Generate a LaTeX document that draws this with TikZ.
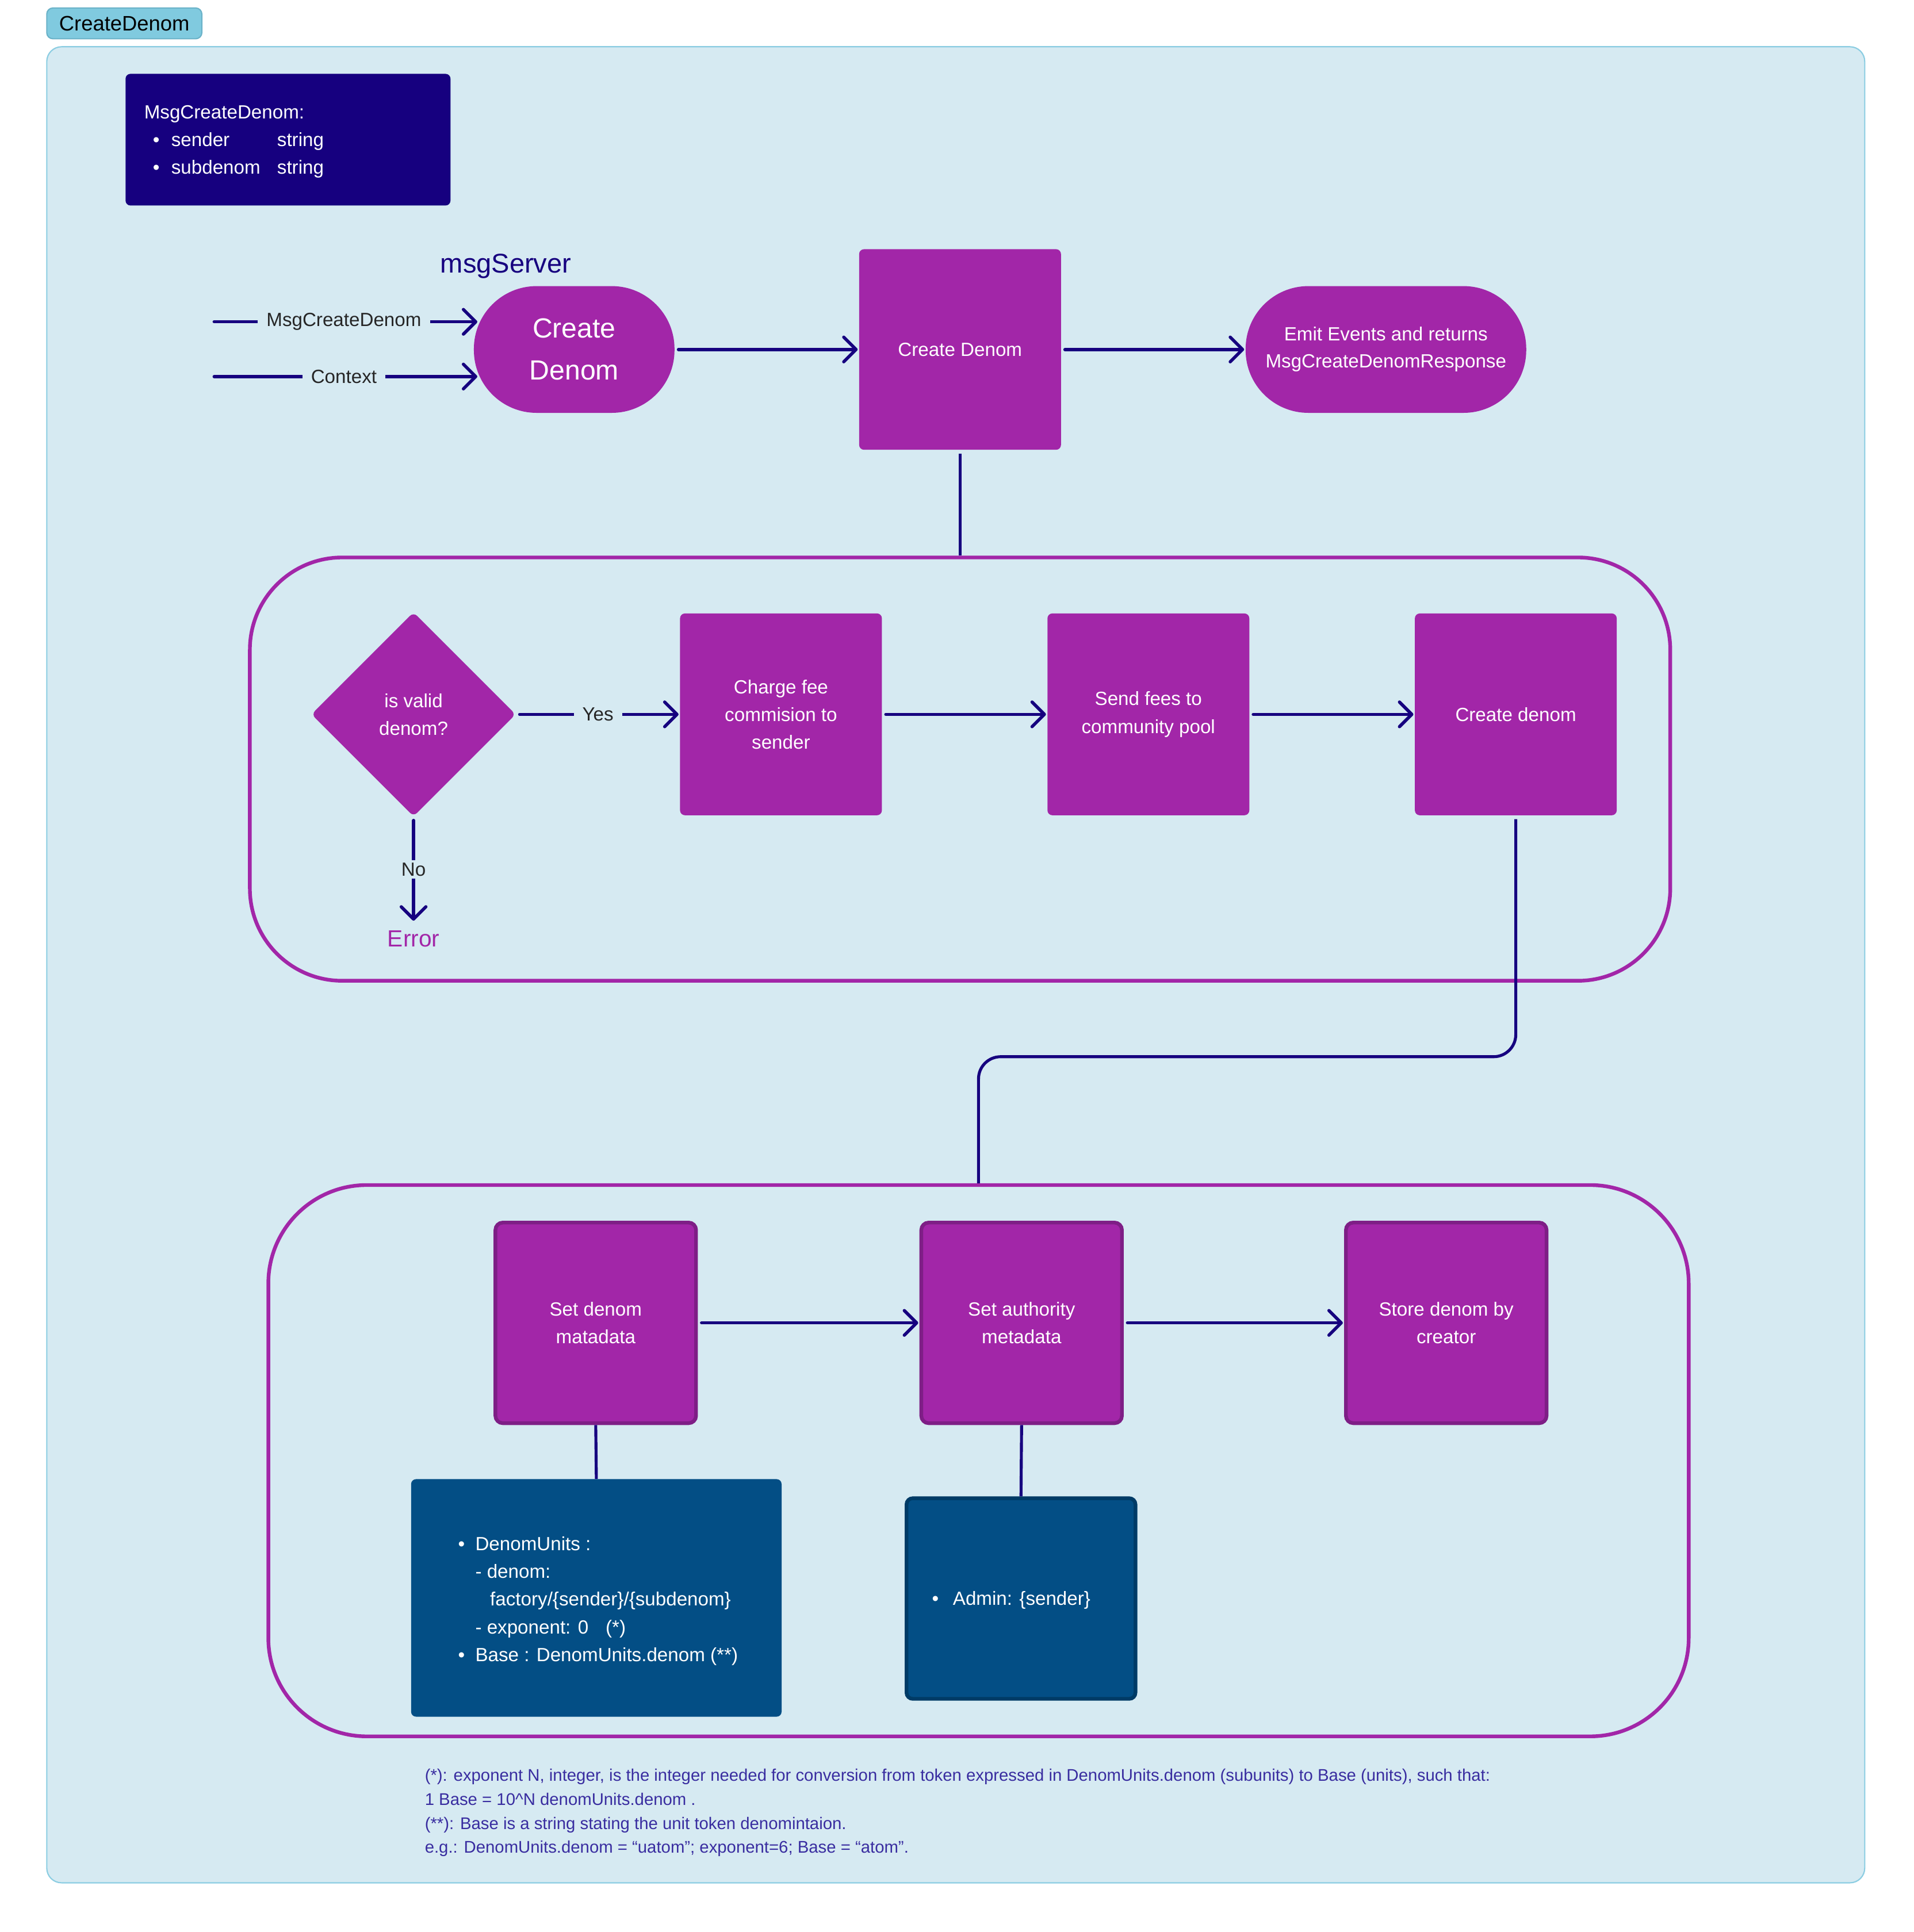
\documentclass[tikz,border=0pt]{standalone}
\usepackage{fontspec}
\setmainfont{Liberation Sans}
\usetikzlibrary{arrows.meta,shapes.geometric,calc}
\definecolor{bgpanel}{HTML}{D6EAF2}
\definecolor{panelline}{HTML}{8BCDE2}
\definecolor{tabfill}{HTML}{80CADF}
\definecolor{tabline}{HTML}{6AB2C8}
\definecolor{purp}{HTML}{A226A8}
\definecolor{purpdark}{HTML}{7E1E86}
\definecolor{ink}{HTML}{16007F}
\definecolor{bluebox}{HTML}{034E85}
\definecolor{blueline}{HTML}{003B66}
\definecolor{labeltext}{HTML}{262626}
\definecolor{footc}{HTML}{392DA0}
\begin{document}
\begin{tikzpicture}[x=1pt,y=-1pt,
  every node/.style={font=\fontsize{15.5}{22.5}\selectfont},
  pbox/.style={rectangle, fill=purp, text=white, rounded corners=4pt, minimum width=164pt, minimum height=164pt, align=center, inner sep=0pt},
  pboxb/.style={pbox, draw=purpdark, line width=3pt, minimum width=163pt, minimum height=163pt, rounded corners=6pt},
  pill/.style={rectangle, fill=purp, text=white, rounded corners=51pt, minimum height=103pt, align=center, inner sep=0pt},
  frame/.style={rectangle, draw=purp, line width=3pt, rounded corners=75pt, inner sep=0pt},
  arr/.style={draw=ink, line width=2.6pt, line cap=round, -{Straight Barb[length=10pt,width=20pt,round]}, shorten <=3pt, shorten >=1pt},
  conn/.style={draw=ink, line width=2.4pt},
  lbl/.style={fill=bgpanel, text=labeltext, inner xsep=7pt, inner ysep=2pt},
]
\useasboundingbox (0,0) rectangle (1555,1570);
\fill[white] (0,0) rectangle (1555,1570);

% main panel and tab
\node[rectangle, fill=bgpanel, draw=panelline, line width=1pt, rounded corners=12pt, minimum width=1477pt, minimum height=1492pt, inner sep=0pt] (main) at (776.5,784) {};
\node[rectangle, fill=tabfill, draw=tabline, line width=1pt, rounded corners=5pt, minimum width=126pt, minimum height=25pt, inner sep=0pt, font=\fontsize{17}{20}\selectfont] (tab) at (101,19) {CreateDenom};

% message definition
\node[rectangle, fill=ink, rounded corners=4pt, minimum width=264pt, minimum height=107pt, inner sep=0pt] (msg) at (234,113.5) {};
\node[anchor=west, text=white, align=left, inner sep=0pt] (msgtxt) at (117,115) {MsgCreateDenom:\\
\hspace*{7pt}\makebox[15pt][l]{\textbullet}\makebox[86pt][l]{sender}string\\
\hspace*{7pt}\makebox[15pt][l]{\textbullet}\makebox[86pt][l]{subdenom}string};

% top row
\node[text=ink, font=\fontsize{22}{26}\selectfont] (msl) at (411,216.5) {msgServer};
\node[pill, minimum width=163pt, font=\fontsize{22.5}{34}\selectfont] (cdpill) at (466.5,284) {Create\\Denom};
\node[pbox, minimum height=163pt] (cdbox) at (780,284) {Create Denom};
\node[pill, minimum width=228pt, font=\fontsize{15.5}{22}\selectfont] (emit) at (1126,284) {Emit Events and returns\\MsgCreateDenomResponse};

\coordinate (in1) at (174,261.5);
\coordinate (in2) at (174,306);
\draw[arr, shorten <=0pt, shorten >=-3pt] (in1) -- node[lbl]{MsgCreateDenom} (in1 -| cdpill.west);
\draw[arr, shorten <=0pt, shorten >=-3pt] (in2) -- node[lbl]{Context} (in2 -| cdpill.west);
\draw[arr] (cdpill.east) -- (cdbox.west);
\draw[arr] (cdbox.east) -- (emit.west);

% frame A
\node[frame, minimum width=1154pt, minimum height=344pt] (frameA) at (780,625) {};
\draw[conn, shorten <=3pt] (cdbox.south) -- (frameA.north);

\node[diamond, fill=purp, text=white, minimum width=166pt, minimum height=166pt, inner sep=0pt, align=center, rounded corners=4pt] (valid) at (336,580.5) {is valid\\denom?};
\node[pbox] (fee) at (634.5,580.5) {Charge fee\\commision to\\sender};
\node[pbox] (send) at (933,580.5) {Send fees to\\community pool};
\node[pbox] (cdn) at (1231.5,580.5) {Create denom};
\node[text=purp, font=\fontsize{19}{22}\selectfont, inner sep=0pt] (errt) at (336,763) {Error};

\draw[arr] (valid.east) -- node[lbl]{Yes} (fee.west);
\draw[arr] (fee.east) -- (send.west);
\draw[arr] (send.east) -- (cdn.west);
\draw[arr] (valid.south) -- node[lbl]{No} ($(errt.north)+(0,-7)$);

% frame B
\node[frame, rounded corners=80pt, minimum width=1154pt, minimum height=448pt] (frameB) at (795,1187) {};
\draw[conn, rounded corners=18pt, shorten <=3pt] (cdn.south) -- ++(0,196) -| (frameB.north);

\node[pboxb] (sdm) at (484,1075) {Set denom\\matadata};
\node[pboxb] (auth) at (830,1075) {Set authority\\metadata};
\node[pboxb] (store) at (1175,1075) {Store denom by\\creator};
\draw[arr] (sdm.east) -- (auth.west);
\draw[arr] (auth.east) -- (store.west);

\node[rectangle, fill=bluebox, rounded corners=4pt, minimum width=301pt, minimum height=193pt, inner sep=0pt] (units) at (484.5,1298.5) {};
\node[anchor=west, text=white, align=left, inner sep=0pt] (unitstxt) at (372,1301) {\makebox[14pt][l]{\textbullet}DenomUnits :\\
\hspace*{14pt}- denom:\\
\hspace*{26pt}factory/\{sender\}/\{subdenom\}\\
\hspace*{14pt}- exponent: 0\hspace{14pt}(*)\\
\makebox[14pt][l]{\textbullet}Base : DenomUnits.denom (**)};
\node[rectangle, fill=bluebox, draw=blueline, line width=3pt, rounded corners=5pt, minimum width=186pt, minimum height=163pt, inner sep=0pt] (admin) at (829.5,1299) {};
\node[anchor=west, text=white, inner sep=0pt] (admintxt) at (757,1300.5) {\makebox[17pt][l]{\textbullet}Admin: \{sender\}};
\draw[conn] (sdm.south) -- (units.north);
\draw[conn] (auth.south) -- (admin.north);

% footnote
\node[anchor=west, text=footc, align=left, inner sep=0pt, font=\fontsize{13.7}{19.6}\selectfont] (note) at (345,1473) {(*): exponent N, integer, is the integer needed for conversion from token expressed in DenomUnits.denom (subunits) to Base (units), such that:\\
1 Base = 10\textasciicircum N denomUnits.denom .\\
(**): Base is a string stating the unit token denomintaion.\\
e.g.: DenomUnits.denom = “uatom”; exponent=6; Base = “atom”.};
\end{tikzpicture}
\end{document}
